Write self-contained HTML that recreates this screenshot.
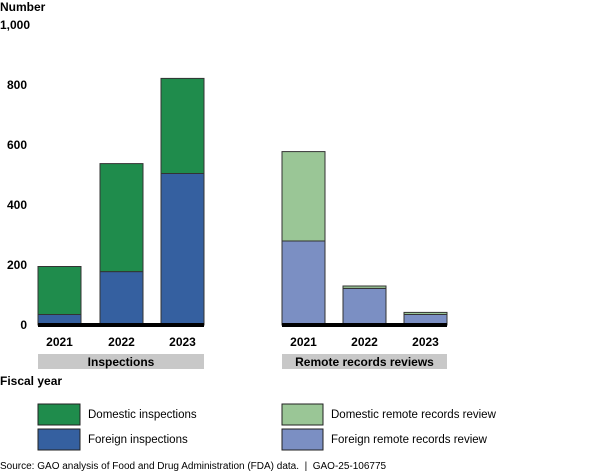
<!DOCTYPE html>
<html><head><meta charset="utf-8"><style>
body{margin:0;background:#fff;}
svg{display:block;font-family:"Liberation Sans",Arial,sans-serif;}
</style></head><body>
<svg id="c" width="600" height="472" viewBox="0 0 600 472">
<text x="0" y="11" font-size="12" font-weight="bold">Number</text>
<g id="yt"></g><g id="bars"></g>
<text x="0" y="385" font-size="12" font-weight="bold">Fiscal year</text>
<g>
<rect x="38" y="404" width="42" height="21" fill="#1f8c4c" stroke="#222"/>
<text x="88" y="418" font-size="11.5">Domestic inspections</text>
<rect x="38" y="429" width="42" height="21" fill="#3560a0" stroke="#222"/>
<text x="88" y="443" font-size="11.5">Foreign inspections</text>
<rect x="282" y="404" width="41" height="21" fill="#9ac696" stroke="#222"/>
<text x="331" y="418" font-size="11.5">Domestic remote records review</text>
<rect x="282" y="429" width="41" height="21" fill="#7b8fc3" stroke="#222"/>
<text x="331" y="443" font-size="11.5">Foreign remote records review</text>
</g>
<text x="0" y="469" font-size="10" xml:space="preserve">Source: GAO analysis of Food and Drug Administration (FDA) data.  |  GAO-25-106775</text>
</svg>
<script>
const years=["2021","2022","2023"];
const inspForeign=[35,178,505];
const inspDomestic=[160,360,317];
const remoteForeign=[280,122,35];
const remoteDomestic=[298,8,7];
const ticks=[0,200,400,600,800,1000];
const tickLabels=["0","200","400","600","800","1,000"];
const groups=["Inspections","Remote records reviews"];
const NS="http://www.w3.org/2000/svg";
const y=v=>325-v*0.3;
const svg=document.getElementById('c');
function el(t,a,p){const e=document.createElementNS(NS,t);for(const k in a)e.setAttribute(k,a[k]);(p||svg).appendChild(e);return e;}
const yt=document.getElementById('yt');
ticks.forEach((t,i)=>{const tx=el('text',{x:i==ticks.length-1?0:27,y:y(t)+4,'font-size':12,'font-weight':'bold','text-anchor':i==ticks.length-1?'start':'end'},yt);tx.textContent=tickLabels[i];

});
const bg=document.getElementById('bars');
const gx=[[38,100,161],[282,343,404]];const bw=43;
const series=[[inspForeign,inspDomestic,"#3560a0","#1f8c4c"],[remoteForeign,remoteDomestic,"#7b8fc3","#9ac696"]];
series.forEach((s,g)=>{
 years.forEach((yr,i)=>{
  const x=gx[g][i];const f=s[0][i],d=s[1][i];
  const r1=el('rect',{x:x,y:y(f),width:bw,height:y(0)-y(f),fill:s[2],stroke:'#333','stroke-width':1},bg);
  
  
  const r2=el('rect',{x:x,y:y(f+d),width:bw,height:y(f)-y(f+d),fill:s[3],stroke:'#333','stroke-width':1},bg);
  
  
  const t=el('text',{x:x+bw/2,y:346,'font-size':12,'font-weight':'bold','text-anchor':'middle'},bg);t.textContent=yr;
  
  
 });
 const x0=gx[g][0],x1=gx[g][2]+bw;
 const b=el('rect',{x:x0,y:323,width:x1-x0,height:4,fill:'#000'},bg);
 
 
 const gr=el('rect',{x:x0,y:354,width:x1-x0,height:15,fill:'#c8c8c8'},bg);
 
 
 const gt=el('text',{x:(x0+x1)/2,y:366,'font-size':12,'font-weight':'bold','text-anchor':'middle'},bg);gt.textContent=groups[g];
 
 
});
</script>
</body></html>
